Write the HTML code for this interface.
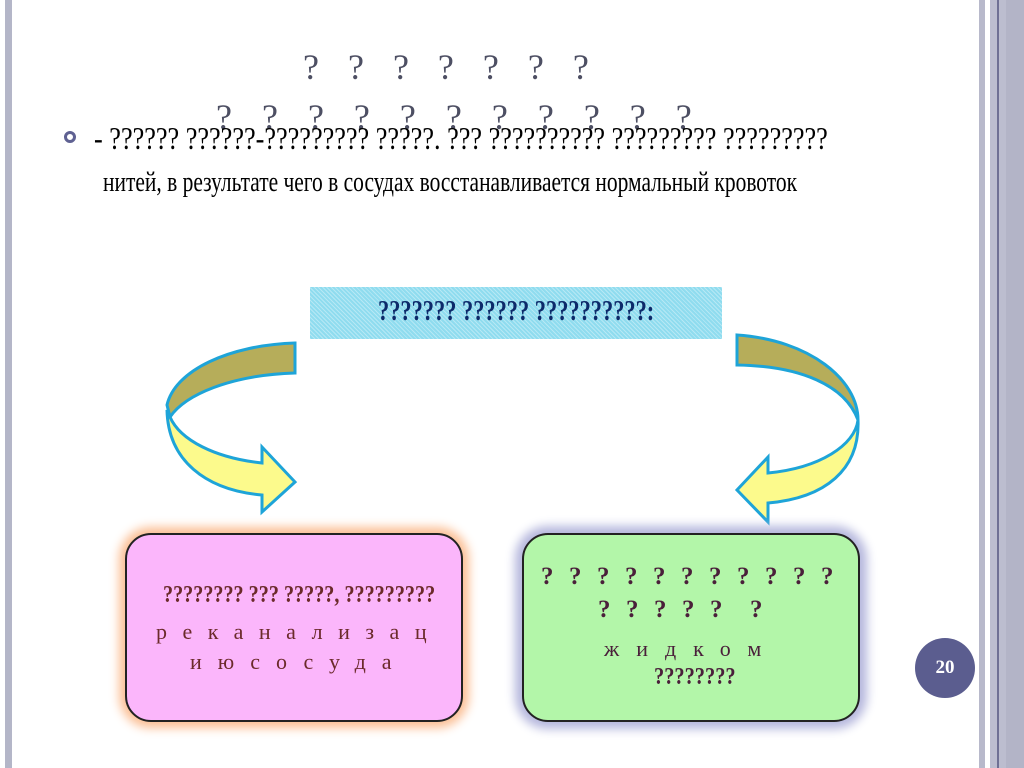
<!DOCTYPE html>
<html><head><meta charset="utf-8"><style>
html,body{margin:0;padding:0;width:1024px;height:768px;overflow:hidden;background:#fff;position:relative;font-family:"Liberation Serif","DejaVu Serif",serif}
.a{position:absolute;white-space:nowrap}
.sq{display:inline-block;transform-origin:left top}
</style></head><body>
<div class="a" style="left:5px;top:0;width:7px;height:768px;background:#b4b6c8"></div>
<div class="a" style="left:979px;top:0;width:6px;height:768px;background:#b8b9cb"></div>
<div class="a" style="left:990px;top:0;width:34px;height:768px;background:#bcbdcf"></div>
<div class="a" style="left:997px;top:0;width:2px;height:768px;background:#6f7094"></div>
<div class="a" style="left:1006px;top:0;width:18px;height:768px;background:#b3b4c7"></div>

<div class="a" style="left:303px;top:46px;font-size:36px;color:#4d4f63;letter-spacing:29px">???????</div>
<div class="a" style="left:216px;top:96px;font-size:36px;color:#4d4f63;letter-spacing:30px">???????????</div>

<div class="a" style="left:64px;top:131px;width:12px;height:12px;border:3px solid #5f6192;border-radius:50%;box-sizing:border-box"></div>
<div class="a" style="left:94px;top:120px;font-size:32px;color:#000"><span class="sq" style="transform:scaleX(0.82)">- ?????? ??????-????????? ?????. ??? ?????????? ????????? ?????????</span></div>
<div class="a" style="left:103px;top:166px;font-size:29px;color:#000"><span class="sq" style="transform:scaleX(0.74)">нитей, в результате чего в сосудах восстанавливается нормальный кровоток</span></div>

<div class="a" style="left:310px;top:287px;width:412px;height:52px;background:#8fdcef;background-image:repeating-linear-gradient(45deg,rgba(255,255,255,.35) 0 1px,transparent 1px 3px)"></div>
<div class="a" style="left:378px;top:296px;font-size:28px;color:#0d2a6a;font-weight:bold"><span class="sq" style="transform:scaleX(0.8)">??????? ?????? ??????????:</span></div>

<svg class="a" style="left:0;top:0" width="1024" height="768">
<g stroke="#1ea4d8" stroke-width="3" stroke-linejoin="miter">
<path d="M295,343 C230,345 175,370 167,405 L170,417 C185,395 230,375 295,373 Z" fill="#b6ad5a"/>
<path d="M170,417 C180,440 215,458 262,463 L262,447 L295,482 L262,512 L262,495 C205,490 168,460 167,410 Z" fill="#fcfa8c"/>
<path d="M737,335 L737,365 C800,366 845,385 858,420 C858,380 810,340 737,335 Z" fill="#b6ad5a"/>
<path d="M858,420 C855,445 820,468 768,473 L768,457 L737,490 L768,522 L768,503 C825,498 860,470 858,420 Z" fill="#fcfa8c"/>
</g>
</svg>

<div class="a" style="left:125px;top:533px;width:338px;height:189px;box-sizing:border-box;background:#fbb6fb;border:2px solid #222;border-radius:26px;box-shadow:0 0 10px 6px #fbbf95"></div>
<div class="a" style="left:163px;top:582px;font-size:24px;color:#6b2a2a;font-weight:bold"><span class="sq" style="transform:scaleX(0.84)">???????? ??? ?????, ?????????</span></div>
<div class="a" style="left:156px;top:619px;font-size:22px;color:#6b2a2a;letter-spacing:15.5px">реканализац</div>
<div class="a" style="left:190px;top:649px;font-size:22px;color:#6b2a2a;letter-spacing:16px">июсосуда</div>

<div class="a" style="left:522px;top:533px;width:338px;height:189px;box-sizing:border-box;background:#b3f6a9;border:2px solid #222;border-radius:26px;box-shadow:0 0 10px 7px #b5b7dd"></div>
<div class="a" style="left:541px;top:563px;font-size:25px;color:#4a1f3a;font-weight:bold;letter-spacing:15.5px">???????????</div>
<div class="a" style="left:598px;top:596px;font-size:25px;color:#4a1f3a;font-weight:bold;letter-spacing:15.5px">?????<span style="margin-left:12px">?</span></div>
<div class="a" style="left:604px;top:636px;font-size:22px;color:#4a1f3a;letter-spacing:17px">жидком</div>
<div class="a" style="left:654px;top:664px;font-size:24px;color:#4a1f3a;font-weight:bold"><span class="sq" style="transform:scaleX(0.85)">????????</span></div>

<div class="a" style="left:915px;top:638px;width:60px;height:60px;border-radius:50%;background:#5b5d8f;color:#fff;font-weight:bold;font-size:19px;text-align:center;line-height:60px">20</div>
</body></html>
